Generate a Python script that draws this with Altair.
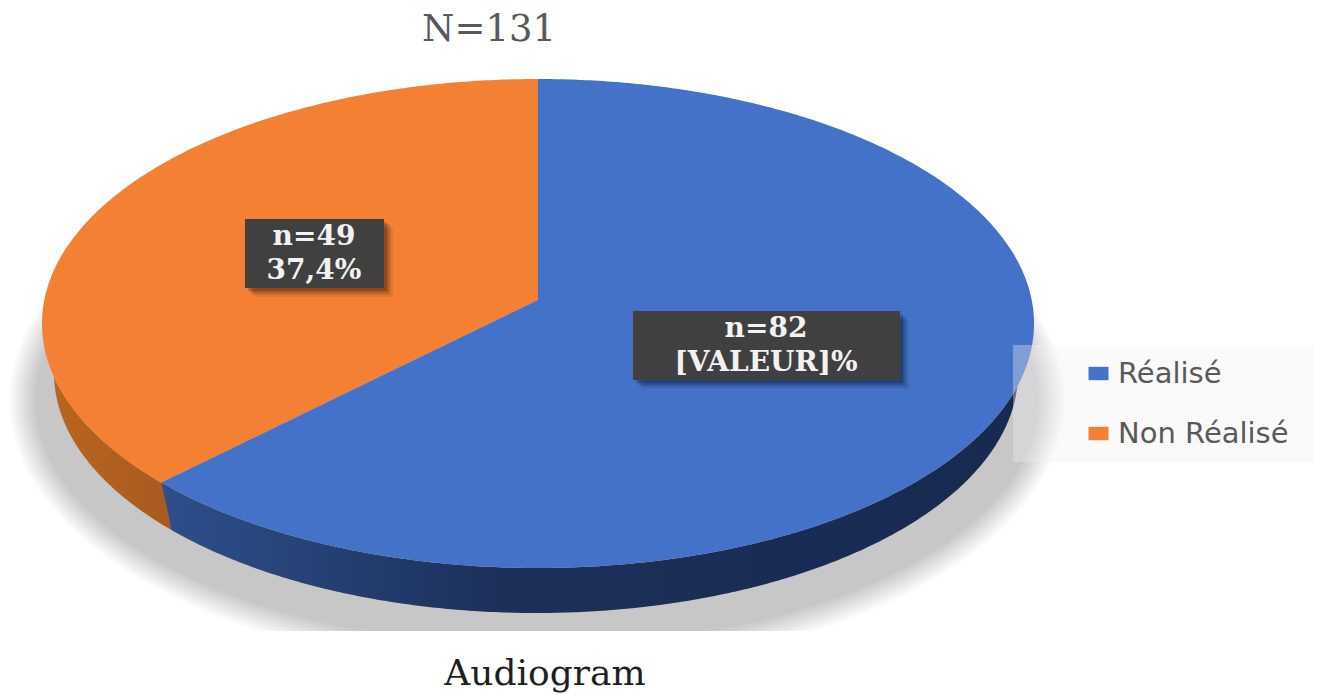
import math
import altair as alt
import pandas as pd

# ---- values ----
categories = ["Réalisé", "Non Réalisé"]
counts = [82, 49]
top_colors = ["#4472c8", "#f48033"]
title_text = "N=131"
footer_text = "Audiogram"
label_lines = [["n=82", "[VALEUR]%"], ["n=49", "37,4%"]]

# ---- reference-pixel layout ----
W, H = 1306, 687
CX, CY, RX, RY = 538.0, 323.5, 496.0, 244.5        # top face ellipse
BX, BY, BRX, BRY = 536.0, 373.0, 482.0, 240.0      # lower rim ellipse
APEX_Y = 300.0
K = 0.0961                                         # perspective of the tilted disc
SCALE_Y = 242.2
SCALE_X = RX * math.sqrt(1 - K * K)


def edge(x, cx, cy, rx, ry, sign):
    q = max(0.0, 1 - ((x - cx) / rx) ** 2)
    return cy + sign * ry * math.sqrt(q)


theta = 2 * math.pi * counts[0] / sum(counts)
u, v = math.sin(theta), -math.cos(theta)
w = 1 - K * v
split_x = CX + SCALE_X * u / w
split_y = APEX_Y + SCALE_Y * v / w
split_x2, split_y2 = split_x + 10.0, split_y + 45.5


def ring_xs(lo, hi, n=360):
    xs = {lo, hi}
    for extra in (CX, split_x, split_x2):
        if lo <= extra <= hi:
            xs.add(extra)
    for i in range(n + 1):
        x = CX + RX * math.sin(-math.pi / 2 + math.pi * i / n)
        if lo <= x <= hi:
            xs.add(x)
    return sorted(xs)


def spoke(x):
    return APEX_Y + (split_y - APEX_Y) * (CX - x) / (CX - split_x)


# top faces
top_rows = []
for x in ring_xs(CX - RX, split_x - 0.01):
    top_rows.append(dict(cat=categories[1], x=x, y=edge(x, CX, CY, RX, RY, -1), y2=edge(x, CX, CY, RX, RY, 1)))
for x in ring_xs(split_x, CX):
    top_rows.append(dict(cat=categories[1], x=x, y=edge(x, CX, CY, RX, RY, -1), y2=spoke(x)))
    top_rows.append(dict(cat=categories[0], x=x, y=spoke(x), y2=edge(x, CX, CY, RX, RY, 1)))
for x in ring_xs(CX + 0.01, CX + RX):
    top_rows.append(dict(cat=categories[0], x=x, y=edge(x, CX, CY, RX, RY, -1), y2=edge(x, CX, CY, RX, RY, 1)))
top_df = pd.DataFrame(top_rows)

# rim
rim_orange, rim_blue = [], []
for x in ring_xs(BX - BRX, split_x2):
    t = edge(x, CX, CY, RX, RY, 1)
    rim_orange.append(dict(x=x, y=t, y2=max(t, edge(x, BX, BY, BRX, BRY, 1))))
for x in ring_xs(split_x, BX + BRX):
    t = edge(x, CX, CY, RX, RY, 1)
    b = max(t, edge(x, BX, BY, BRX, BRY, 1))
    if x < split_x2:
        b = min(b, split_y + (split_y2 - split_y) * (x - split_x) / (split_x2 - split_x))
    rim_blue.append(dict(x=x, y=t, y2=b))

x_scale = alt.Scale(domain=[8, 8 + W], range=[0, W], nice=False, zero=False)
y_scale = alt.Scale(domain=[8, 8 + H], range=[0, H], nice=False, zero=False)
X = alt.X("x:Q", scale=x_scale, axis=None)
Y = alt.Y("y:Q", scale=y_scale, axis=None)


def gradient(stops):
    return alt.Gradient(
        gradient="linear", x1=0, x2=1, y1=0, y2=0,
        stops=[alt.GradientStop(offset=o, color=c) for o, c in stops],
    )


layers = []

# soft ground shadow: a pile of faint ellipses cut off at the shadow's lower edge
SH_N = 14
for i in range(SH_N):
    srx = 528 - i * 2.0
    sry = 272 - i * 2.0
    rows = []
    for j in range(241):
        x = 537 + srx * math.sin(-math.pi / 2 + math.pi * j / 240)
        rows.append(dict(x=x, y=edge(x, 537, 400, srx, sry, -1), y2=min(631.0, edge(x, 537, 400, srx, sry, 1))))
    layers.append(
        alt.Chart(pd.DataFrame(rows)).mark_area(color="#000000", opacity=0.0165)
        .encode(x=X, y=Y, y2="y2:Q")
    )

layers.append(
    alt.Chart(pd.DataFrame(rim_orange))
    .mark_area(color=gradient([(0, "#b9651f"), (1, "#a85a20")]))
    .encode(x=X, y=Y, y2="y2:Q")
)
layers.append(
    alt.Chart(pd.DataFrame(rim_blue))
    .mark_area(color=gradient([(0, "#2e4f8c"), (0.4, "#1c3059"), (1, "#172a50")]))
    .encode(x=X, y=Y, y2="y2:Q")
)

layers.append(
    alt.Chart(top_df).mark_area().encode(
        x=X, y=Y, y2="y2:Q",
        color=alt.Color(
            "cat:N",
            scale=alt.Scale(domain=categories, range=top_colors),
            legend=alt.Legend(
                title=None, orient="none", legendX=1076, legendY=351, direction="vertical",
                symbolType="M-1,-0.67H1V0.67H-1Z", symbolSize=400, symbolStrokeWidth=0,
                labelFont="DejaVu Sans", labelFontSize=29, labelColor="#595959", labelLimit=400,
                rowPadding=30, labelOffset=5, zindex=1, padding=0,
                symbolOpacity=1,
            ),
        ),
    )
)

# data-label boxes
boxes = pd.DataFrame({
    "x": [633, 245], "x2": [900, 384],
    "y": [311, 219], "y2": [380, 288],
})
for off, op in [(9, 0.07), (7, 0.10), (5, 0.14), (3, 0.18)]:
    shifted = boxes + off
    layers.append(
        alt.Chart(shifted).mark_rect(color="#000000", opacity=op)
        .encode(x=X, x2="x2:Q", y=Y, y2="y2:Q")
    )
layers.append(
    alt.Chart(boxes).mark_rect(color="#404040").encode(x=X, x2="x2:Q", y=Y, y2="y2:Q")
)

text_df = pd.DataFrame({
    "x": [766, 766, 314, 314],
    "y": [337, 371, 245, 279],
    "t": [label_lines[0][0], label_lines[0][1], label_lines[1][0], label_lines[1][1]],
})
layers.append(
    alt.Chart(text_df)
    .mark_text(font="DejaVu Serif", fontWeight="bold", fontSize=28, color="#f2f2f2", baseline="alphabetic", align="center")
    .encode(x=X, y=Y, text="t:N")
)

# translucent legend panel
panel = pd.DataFrame({"x": [1013], "x2": [1322], "y": [345], "y2": [462]})
layers.append(
    alt.Chart(panel).mark_rect(color="#f0f0f0", opacity=0.35, clip=True)
    .encode(x=X, x2="x2:Q", y=Y, y2="y2:Q")
)

title_df = pd.DataFrame({"x": [489], "y": [41], "t": [title_text]})
layers.append(
    alt.Chart(title_df)
    .mark_text(font="DejaVu Serif", fontSize=37, color="#595959", baseline="alphabetic", align="center")
    .encode(x=X, y=Y, text="t:N")
)
foot_df = pd.DataFrame({"x": [545], "y": [685], "t": [footer_text]})
layers.append(
    alt.Chart(foot_df)
    .mark_text(font="DejaVu Serif", fontSize=36, color="#1f1f1f", baseline="alphabetic", align="center")
    .encode(x=X, y=Y, text="t:N")
)

chart = (
    alt.layer(*layers)
    .properties(width=W, height=H, padding=0, background="#ffffff", autosize=alt.AutoSizeParams(type="none"))
    .configure_view(stroke=None)
)

chart.save("out.html", embed_options={"renderer": "svg", "actions": False})
